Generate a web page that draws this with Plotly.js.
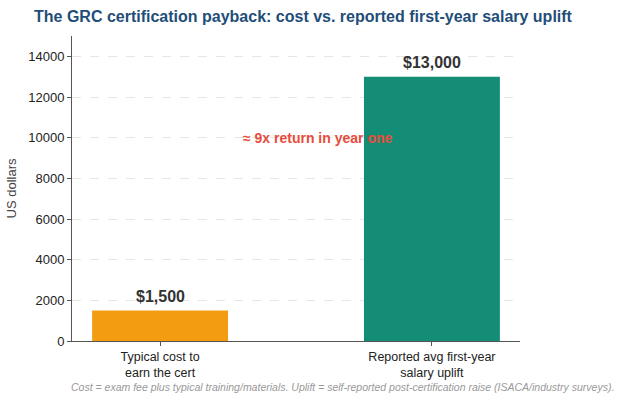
<!DOCTYPE html>
<html><head><meta charset="utf-8">
<script src="https://cdn.plot.ly/plotly-3.0.1.min.js"></script>
<style>html,body{margin:0;padding:0;background:#fff}#chart{width:619px;height:400px}</style>
</head><body><div id="chart"></div>
<script>
const categories = ["Typical cost to<br>earn the cert", "Reported avg first-year<br>salary uplift"];
const values = [1500, 13000];
const valueLabels = ["$1,500", "$13,000"];
const barColors = ["#f39c12", "#138d75"];
const yTicks = [0, 2000, 4000, 6000, 8000, 10000, 12000, 14000];
const xPos = [0, 1];

const trace = {
  type: "bar", x: xPos, y: values, width: 0.5,
  marker: {color: barColors, line: {width: 0}},
  hoverinfo: "none"
};
const valueAnnotations = xPos.map((x, i) => ({
  x: x, y: values[i], xref: "x", yref: "y", text: "<b>" + valueLabels[i] + "</b>",
  showarrow: false, xanchor: "center", yanchor: "bottom", yshift: 4,
  font: {size: 16, color: "#333"}
}));
const plotW = 619 - 72 - 99, plotH = 400 - 36 - 59;
const layout = {
  width: 619, height: 400,
  margin: {l: 72, r: 99, t: 36, b: 59},
  paper_bgcolor: "#fff", plot_bgcolor: "#fff",
  font: {family: "Liberation Sans, Arial, sans-serif", color: "#222"},
  title: {text: "<b>The GRC certification payback: cost vs. reported first-year salary uplift</b>",
    x: 34/619, xanchor: "left", y: 1 - 16/400, yanchor: "middle",
    font: {size: 16, color: "#1f4e79"}},
  xaxis: {range: [-0.324, 1.324], tickvals: xPos, ticktext: categories,
    showline: true, linecolor: "#555", linewidth: 1, ticks: "outside", ticklen: 4, tickcolor: "#555",
    showgrid: false, zeroline: false, tickfont: {size: 12.5, color: "#222"}},
  yaxis: {range: [0, 15000], tickvals: yTicks, ticktext: yTicks.map(String),
    showline: true, linecolor: "#555", linewidth: 1, ticks: "outside", ticklen: 4, tickcolor: "#555",
    showgrid: true, gridcolor: "#e6e6e6", griddash: "dash", gridwidth: 1, zeroline: false,
    tickfont: {size: 13, color: "#222"},
    title: {text: "US dollars", font: {size: 13, color: "#444"}, standoff: 8}},
  annotations: valueAnnotations.concat([
    {x: 0.58, y: 10000, xref: "x", yref: "y", text: "<b>≈ 9x return in year one</b>", showarrow: false,
      font: {size: 14, color: "#e74c3c"}, xanchor: "center", yanchor: "middle"},
    {x: (342 - 72) / plotW, y: -(387 - 341) / plotH, xref: "paper", yref: "paper",
      text: "<i>Cost = exam fee plus typical training/materials. Uplift = self-reported post-certification raise (ISACA/industry surveys).</i>",
      showarrow: false, font: {size: 10.5, color: "#999"}, xanchor: "center", yanchor: "middle"}
  ]),
  showlegend: false
};
Plotly.newPlot("chart", [trace], layout, {displayModeBar: false, staticPlot: true});
</script></body></html>
